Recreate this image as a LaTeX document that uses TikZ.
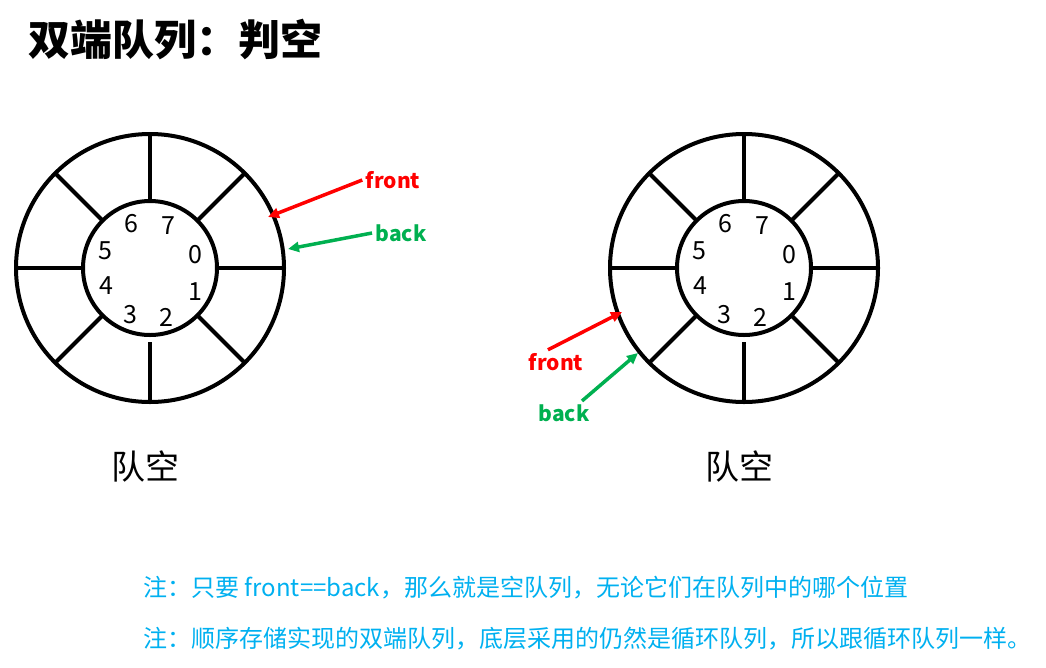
\documentclass[tikz,border=0pt]{standalone}
\usepackage{fontspec}
\setmainfont{Noto Sans CJK SC}
\usetikzlibrary{arrows.meta}
\definecolor{frontred}{RGB}{255,0,0}
\definecolor{backgreen}{RGB}{0,176,80}
\definecolor{notecyan}{RGB}{0,176,240}

\begin{document}
\begin{tikzpicture}[x=1pt,y=-1pt,
    ring/.style={line width=4pt},
    ptr/.style={-{Triangle[length=11pt,width=10pt]}, line width=3.5pt},
    ptrlab/.style={font=\fontsize{21}{24}\selectfont\bfseries}]
    \useasboundingbox (0,0) rectangle (1046,667);
    % title
    \node[anchor=west, font=\fontsize{42}{50}\selectfont\bfseries] (title) at (25,40) {双端队列：判空};
    % the two rings
    \foreach \cx/\nm in {150/L,744/R} {
        \begin{scope}[shift={(\cx,268)}]
            \draw[ring] (0,0) circle (134);
            \draw[ring] (0,0) circle (67);
            \foreach \a/\r in {0/67,45/67,90/74,135/67,180/67,225/67,270/67,315/67}
                \draw[ring] (\a:\r) -- (\a:134);
            \foreach \d/\dx/\dy in {0/45/-13, 1/45/24, 2/16/49, 3/-20/47, 4/-44/18, 5/-45/-17, 6/-19/-44, 7/18/-42}
                \node[font=\fontsize{25}{28}\selectfont] (cell\nm\d) at (\dx,\dy) {\d};
            \node[font=\fontsize{34}{40}\selectfont] (empty\nm) at (-5,199) {队空};
        \end{scope}
    }
    % pointers, left ring
    \node[ptrlab, text=frontred] (frontL) at (393,180) {front};
    \node[ptrlab, text=backgreen] (backL) at (401,233) {back};
    \coordinate (frontLtip) at (268,217);
    \coordinate (backLtip) at (288,249);
    \draw[ptr, frontred] (frontL.west) -- (frontLtip);
    \draw[ptr, backgreen] (backL.west) -- (backLtip);
    % pointers, right ring
    \node[ptrlab, text=frontred] (frontR) at (556,362) {front};
    \node[ptrlab, text=backgreen] (backR) at (564,413) {back};
    \coordinate (frontRtip) at (622,312);
    \coordinate (backRtip) at (638,353);
    \draw[ptr, frontred] ([xshift=-8pt]frontR.north) -- (frontRtip);
    \draw[ptr, backgreen] ([xshift=18pt]backR.north) -- (backRtip);
    % notes
    \node[anchor=west, text=notecyan, font=\fontsize{24}{28}\selectfont] (note1) at (140,588) {注：只要 front==back，那么就是空队列，无论它们在队列中的哪个位置};
    \node[anchor=west, text=notecyan, font=\fontsize{24}{28}\selectfont] (note2) at (140,639) {注：顺序存储实现的双端队列，底层采用的仍然是循环队列，所以跟循环队列一样。};
\end{tikzpicture}
\end{document}
